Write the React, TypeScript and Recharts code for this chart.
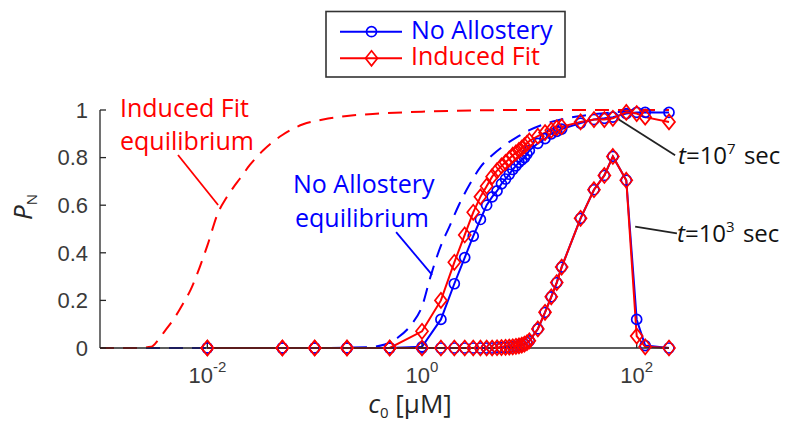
import { LineChart, Line, XAxis, YAxis, ReferenceLine } from 'recharts';

// concentrations used by the kinetic simulations (uM)
const c0 = [
  0.01, 0.05, 0.1, 0.2, 0.5, 1,
  1.5, 2, 2.5, 3, 3.5, 4, 4.5, 5, 5.5, 6, 6.5, 7, 7.5, 8, 8.5, 9, 9.5, 10,
  12, 14, 16, 18, 20,
  30, 40, 50, 60, 80, 100, 120, 200,
];

// t = 10^7 sec
const noAllo7 = [
  0, 0, 0, 0, 0, 0.005,
  0.12, 0.27, 0.38, 0.47, 0.54, 0.6, 0.635, 0.66, 0.69, 0.71, 0.73, 0.75, 0.765, 0.78, 0.79, 0.8, 0.815, 0.83,
  0.86, 0.88, 0.9, 0.91, 0.92,
  0.945, 0.96, 0.965, 0.97, 0.985, 0.99, 0.99, 0.99,
];
const induced7 = [
  0, 0, 0, 0, 0, 0.07,
  0.2, 0.36, 0.475, 0.57, 0.635, 0.68, 0.72, 0.745, 0.765, 0.78, 0.795, 0.81, 0.82, 0.83, 0.84, 0.85, 0.86, 0.87,
  0.89, 0.905, 0.915, 0.925, 0.93,
  0.95, 0.96, 0.96, 0.965, 0.99, 0.985, 0.97, 0.95,
];

// t = 10^3 sec
const noAllo3 = [
  0, 0, 0, 0, 0, 0,
  0, 0, 0, 0, 0, 0, 0, 0.001, 0.002, 0.003, 0.004, 0.005, 0.007, 0.009, 0.012, 0.016, 0.022, 0.03,
  0.08, 0.15, 0.215, 0.275, 0.34,
  0.545, 0.665, 0.725, 0.805, 0.705, 0.12, 0.01, 0,
];
const induced3 = [
  0, 0, 0, 0, 0, 0,
  0, 0, 0, 0, 0, 0, 0, 0.001, 0.002, 0.003, 0.004, 0.005, 0.007, 0.009, 0.012, 0.016, 0.022, 0.03,
  0.08, 0.15, 0.215, 0.275, 0.34,
  0.545, 0.665, 0.725, 0.805, 0.705, 0.05, 0.005, 0,
];

// equilibrium curves
const cEqNoAllo = [0.001, 0.1, 0.3, 0.45, 0.6, 0.8, 1, 1.2, 1.5, 1.8, 2.2, 2.8, 3.5, 4.5, 6, 7.6, 10, 16, 30, 60, 200];
const pEqNoAllo = [0, 0, 0.003, 0.015, 0.045, 0.1, 0.175, 0.3, 0.43, 0.51, 0.6, 0.69, 0.76, 0.81, 0.855, 0.885, 0.915, 0.95, 0.975, 0.99, 1];
const cEqInduced = [0.001, 0.002, 0.003, 0.0035, 0.004, 0.005, 0.006, 0.007, 0.0085, 0.01, 0.0125, 0.015, 0.0175, 0.02, 0.025, 0.033, 0.05, 0.078, 0.12, 0.2, 0.4, 1, 3, 10, 200];
const pEqInduced = [0, 0, 0.005, 0.035, 0.07, 0.13, 0.19, 0.245, 0.34, 0.43, 0.565, 0.63, 0.675, 0.71, 0.77, 0.83, 0.895, 0.94, 0.96, 0.975, 0.985, 0.993, 0.998, 1, 1];

const xTicks = [0.01, 1, 100];
const yTicks = [0, 0.2, 0.4, 0.6, 0.8, 1];

// pointer lines of the annotations, in data units
const ptrInducedEq = [{ x: 0.00533, y: 0.811 }, { x: 0.0126, y: 0.601 }];
const ptrNoAlloEq = [{ x: 0.574, y: 0.487 }, { x: 1.242, y: 0.307 }];
const ptrT7 = [{ x: 65.3, y: 0.965 }, { x: 228, y: 0.81 }];
const ptrT3 = [{ x: 96.8, y: 0.51 }, { x: 237, y: 0.482 }];

const BLUE = '#0000ff';
const RED = '#ff0000';
const AXIS = '#262626';
const TICK_COLOR = '#3a3a3a';
const TICK_FONT = "'Liberation Sans', Arial, sans-serif";
const TEXT_FONT = "'Open Sans', sans-serif";

const pts = (xs: number[], ys: number[]) => xs.map((x, i) => ({ x, y: ys[i] }));

const circleDot = (color: string) => (p: any) => (
  <circle key={`c-${p.index}`} cx={p.cx} cy={p.cy} r={5} fill="none" stroke={color} strokeWidth={1.7} />
);

const diamondPath = (cx: number, cy: number) =>
  `M${cx},${cy - 7.5} L${cx + 6},${cy} L${cx},${cy + 7.5} L${cx - 6},${cy} Z`;

const diamondDot = (color: string) => (p: any) => (
  <path key={`d-${p.index}`} d={diamondPath(p.cx, p.cy)} fill="none" stroke={color} strokeWidth={1.7} />
);

function XTick(props: any) {
  const { x, y, payload } = props;
  const exp = Math.round(Math.log10(payload.value));
  return (
    <text x={x} y={y + 27} textAnchor="middle" fontSize={22} fontFamily={TICK_FONT} fill={TICK_COLOR}>
      10<tspan dy={-11} fontSize={15}>{exp}</tspan>
    </text>
  );
}

export default function App() {
  return (
    <div style={{ position: 'absolute', left: 0, top: 0, width: 789, height: 424, background: '#fff' }}>
      <LineChart width={789} height={424} margin={{ top: 110, right: 120, bottom: 36, left: 40 }}>
        <XAxis
          type="number"
          dataKey="x"
          scale="log"
          domain={[0.001, 200]}
          ticks={xTicks}
          interval={0}
          height={40}
          tickSize={-6}
          tickMargin={14}
          tick={(p: any) => <XTick {...p} />}
          axisLine={{ stroke: AXIS, strokeWidth: 1.3 }}
          tickLine={{ stroke: AXIS, strokeWidth: 1.3 }}
        />
        <YAxis
          type="number"
          dataKey="y"
          domain={[0, 1]}
          ticks={yTicks}
          interval={0}
          width={60}
          tickSize={-6}
          tickMargin={18}
          tickFormatter={(v: number) => String(v)}
          tick={{ fill: TICK_COLOR, fontSize: 22, fontFamily: TICK_FONT }}
          axisLine={{ stroke: AXIS, strokeWidth: 1.3 }}
          tickLine={{ stroke: AXIS, strokeWidth: 1.3 }}
        />
        <ReferenceLine segment={ptrInducedEq} stroke={RED} strokeWidth={1.8} ifOverflow="visible" />
        <ReferenceLine segment={ptrNoAlloEq} stroke={BLUE} strokeWidth={1.8} ifOverflow="visible" />
        <ReferenceLine segment={ptrT7} stroke="#222" strokeWidth={1.8} ifOverflow="visible" />
        <ReferenceLine segment={ptrT3} stroke="#222" strokeWidth={1.8} ifOverflow="visible" />

        <Line data={pts(cEqNoAllo, pEqNoAllo)} dataKey="y" type="monotone" stroke={BLUE} strokeWidth={2}
          strokeDasharray="14 9" dot={false} isAnimationActive={false} />
        <Line data={pts(cEqInduced, pEqInduced)} dataKey="y" type="monotone" stroke={RED} strokeWidth={2}
          strokeDasharray="14 9" dot={false} isAnimationActive={false} />

        <Line data={pts(c0, noAllo7)} dataKey="y" type="linear" stroke={BLUE} strokeWidth={2}
          dot={circleDot(BLUE)} isAnimationActive={false} />
        <Line data={pts(c0, noAllo3)} dataKey="y" type="linear" stroke={BLUE} strokeWidth={2}
          dot={circleDot(BLUE)} isAnimationActive={false} />
        <Line data={pts(c0, induced7)} dataKey="y" type="linear" stroke={RED} strokeWidth={2}
          dot={diamondDot(RED)} isAnimationActive={false} />
        <Line data={pts(c0, induced3)} dataKey="y" type="linear" stroke={RED} strokeWidth={2}
          dot={diamondDot(RED)} isAnimationActive={false} />
      </LineChart>

      <svg width={789} height={424} style={{ position: 'absolute', left: 0, top: 0, pointerEvents: 'none' }}>
        {/* legend */}
        <rect x={326} y={11.5} width={239} height={65.5} fill="#fff" stroke="#333" strokeWidth={1.6} />
        <line x1={340} y1={31.7} x2={402} y2={31.7} stroke={BLUE} strokeWidth={2} />
        <circle cx={371.5} cy={31.7} r={5} fill="none" stroke={BLUE} strokeWidth={1.7} />
        <line x1={340} y1={58.3} x2={402} y2={58.3} stroke={RED} strokeWidth={2} />
        <path d={diamondPath(371.5, 58.3)} fill="none" stroke={RED} strokeWidth={1.7} />
        <g fontFamily={TEXT_FONT} fontSize={25}>
          <text x={411} y={39.3} fill={BLUE}>No Allostery</text>
          <text x={411} y={64.5} fill={RED}>Induced Fit</text>
        </g>

        {/* annotations */}
        <g fontFamily={TEXT_FONT} fontSize={25}>
          <text x={120} y={117} fill={RED}>Induced Fit</text>
          <text x={120} y={150} fill={RED}>equilibrium</text>
          <text x={293} y={193} fill={BLUE}>No Allostery</text>
          <text x={295} y={227} fill={BLUE}>equilibrium</text>
        </g>
        <g fontFamily={TEXT_FONT} fontSize={24} fill="#111">
          <text x={678} y={164}>
            <tspan fontStyle="italic">t</tspan>=10<tspan dy={-10} fontSize={15}>7</tspan>
            <tspan dy={10} dx={2}> sec</tspan>
          </text>
          <text x={677} y={241.7}>
            <tspan fontStyle="italic">t</tspan>=10<tspan dy={-10} fontSize={15}>3</tspan>
            <tspan dy={10} dx={2}> sec</tspan>
          </text>
        </g>

        {/* axis labels */}
        <text x={410} y={413} textAnchor="middle" fontFamily={TEXT_FONT} fontSize={26} fill={AXIS}>
          <tspan fontStyle="italic">c</tspan>
          <tspan fontSize={15} dy={5}>0</tspan>
          <tspan dy={-5}> [μM]</tspan>
        </text>
        <text x={32} y={207} transform="rotate(-90, 32, 207)" textAnchor="middle" fontFamily={TEXT_FONT} fontSize={26} fill={AXIS}>
          <tspan fontStyle="italic">P</tspan>
          <tspan fontSize={15} dy={5}>N</tspan>
        </text>
      </svg>
    </div>
  );
}
